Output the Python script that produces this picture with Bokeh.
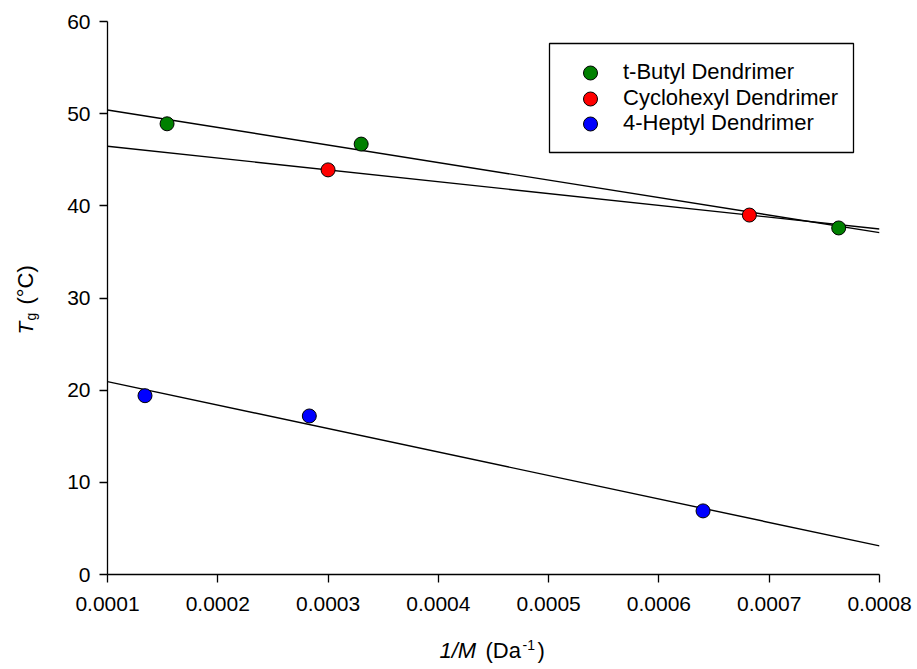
import numpy as np
from bokeh.plotting import figure
from bokeh.models import (Range1d, FixedTicker, PrintfTickFormatter, Label,
                          Legend, LegendItem, BoxAnnotation)
from bokeh.embed import file_html
from bokeh.resources import INLINE

# ---- data ----
tbutyl_x = [0.000154, 0.000330, 0.000763]
tbutyl_y = [48.9, 46.7, 37.6]
cyclo_x = [0.000300, 0.000682]
cyclo_y = [43.9, 39.0]
heptyl_x = [0.000134, 0.000283, 0.000640]
heptyl_y = [19.4, 17.2, 6.9]

series_names = ["t-Butyl Dendrimer", "Cyclohexyl Dendrimer", "4-Heptyl Dendrimer"]
series_colors = ["#008000", "#ff0000", "#0000ff"]

x_ticks = [0.0001, 0.0002, 0.0003, 0.0004, 0.0005, 0.0006, 0.0007, 0.0008]
y_ticks = [0, 10, 20, 30, 40, 50, 60]

FONT = "Liberation Sans"
FS = "21px"

# frame geometry (canvas pixels)
FL, FR, FT, FB = 107, 879, 21, 574
W, H = 917, 669

p = figure(width=W, height=H, output_backend="svg", toolbar_location=None,
           x_range=Range1d(x_ticks[0], x_ticks[-1]), y_range=Range1d(y_ticks[0], y_ticks[-1]),
           min_border_left=FL, min_border_right=W - FR, min_border_top=FT, min_border_bottom=H - FB)
p.outline_line_color = None
p.xgrid.visible = False
p.ygrid.visible = False
p.background_fill_color = "white"
p.border_fill_color = "white"

for ax in (p.xaxis[0], p.yaxis[0]):
    ax.axis_line_color = "black"
    ax.axis_line_width = 1.3
    ax.major_tick_line_color = "black"
    ax.major_tick_line_width = 1.3
    ax.major_tick_in = 0
    ax.major_tick_out = 8
    ax.minor_tick_line_color = None
    ax.major_label_text_font = FONT
    ax.major_label_text_font_size = FS
    ax.major_label_text_color = "black"

p.xaxis[0].ticker = FixedTicker(ticks=x_ticks)
p.xaxis[0].formatter = PrintfTickFormatter(format="%.4f")
p.xaxis[0].major_label_standoff = 14
p.yaxis[0].ticker = FixedTicker(ticks=y_ticks)
p.yaxis[0].major_label_standoff = 9

x0, x1 = x_ticks[0], x_ticks[-1]
y0, y1 = y_ticks[0], y_ticks[-1]

def px2x(cx):
    return x0 + (cx - FL) / (FR - FL) * (x1 - x0)

def px2y(cy):
    return y0 + (FB - cy) / (FB - FT) * (y1 - y0)

# legend frame box
p.add_layout(BoxAnnotation(left=px2x(549), right=px2x(853), top=px2y(43), bottom=px2y(152),
                           fill_color="white", fill_alpha=1.0,
                           line_color="black", line_alpha=1.0, line_width=1.3,
                           level="annotation"))

# regression lines over the axis span
span = np.array([x0, x1])
all_series = [(tbutyl_x, tbutyl_y), (cyclo_x, cyclo_y), (heptyl_x, heptyl_y)]
for xs, ys in all_series:
    m, b = np.polyfit(np.array(xs), np.array(ys), 1)
    p.line(span, m * span + b, line_color="black", line_width=1.4)

row_centers = [72, 98, 123]
for (xs, ys), name, col, rc in zip(all_series, series_names, series_colors, row_centers):
    r = p.scatter(xs, ys, size=14, fill_color=col, line_color="black", line_width=1)
    lg = Legend(items=[LegendItem(label=name, renderers=[r])],
                location=(590 - 30 - FL, FB - (rc + 17.5)),
                glyph_width=60, glyph_height=35, spacing=0, padding=0, margin=0,
                label_standoff=3,
                label_text_font=FONT, label_text_font_size="22px", label_text_color="black",
                border_line_color=None, background_fill_alpha=0.0)
    p.add_layout(lg, "center")

def lab(text, cx, cy, side, size=FS, style="normal", angle=0.0):
    # labels are placed in data units; the side panel only keeps them unclipped
    p.add_layout(Label(x=px2x(cx), y=px2y(cy), x_units="data", y_units="data",
                       text=text, text_font=FONT, text_font_size=size,
                       text_font_style=style, text_color="black",
                       text_align="left", text_baseline="alphabetic", angle=angle), side)

# x title: 1/M (Da^-1)
by = 650
lab("1/M", 439, by, "below", size="22px", style="italic")
lab("(Da", 485, by, "below", size="22px")
lab("-1", 522, by - 6, "above", size="14px")
lab(")", 537, by, "right", size="22px")

# y title: T_g (°C), rotated
ang = np.pi / 2
yx, yy = 25, 334
lab("T", yx, yy, "left", style="italic", angle=ang)
lab("g", yx + 5, yy - 14, "left", size="14px", angle=ang)
lab("(°C)", yx, yy - 30, "left", size="22px", angle=ang)

open("out.html", "w").write(file_html(p, INLINE))
